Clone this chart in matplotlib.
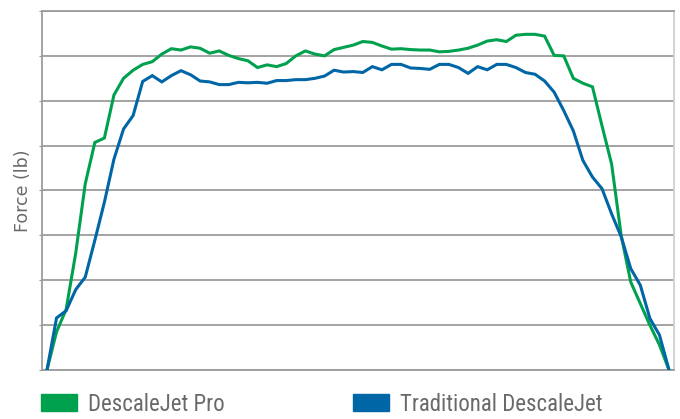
import numpy as np
import matplotlib.pyplot as plt
from matplotlib.patches import Patch

# force readings, one per sample step (same time base for both units)
pro_force = [0, 0.85, 1.35, 2.6, 4.15, 5.07, 5.17, 6.13, 6.5, 6.68,
             6.81, 6.87, 7.04, 7.16, 7.13, 7.2, 7.17, 7.06, 7.11, 7.01,
             6.94, 6.89, 6.74, 6.8, 6.76, 6.83, 7.0, 7.11, 7.04, 7.0,
             7.14, 7.19, 7.24, 7.32, 7.3, 7.22, 7.15, 7.16, 7.14, 7.13,
             7.13, 7.09, 7.1, 7.13, 7.17, 7.24, 7.33, 7.36, 7.32, 7.46,
             7.48, 7.48, 7.44, 7.01, 7.0, 6.5, 6.39, 6.31, 5.44, 4.59,
             3.0, 1.96, 1.48, 1.0, 0.56, 0]
trad_force = [0, 1.16, 1.32, 1.79, 2.07, 2.89, 3.74, 4.7, 5.37, 5.67,
              6.43, 6.56, 6.42, 6.56, 6.67, 6.58, 6.44, 6.42, 6.36, 6.36,
              6.41, 6.4, 6.41, 6.39, 6.45, 6.45, 6.47, 6.47, 6.5, 6.55,
              6.68, 6.64, 6.65, 6.63, 6.76, 6.69, 6.81, 6.81, 6.73, 6.72,
              6.7, 6.81, 6.81, 6.74, 6.61, 6.76, 6.69, 6.81, 6.81, 6.74,
              6.63, 6.59, 6.44, 6.19, 5.78, 5.33, 4.67, 4.3, 4.04, 3.48,
              2.97, 2.26, 1.89, 1.15, 0.78, 0]
series_names = ["DescaleJet Pro", "Traditional DescaleJet"]
series_colors = ["#00a14e", "#0066a6"]

steps = np.arange(len(pro_force))
text_gray = "#6a6a6a"
narrow = ["Roboto Condensed", "DejaVu Sans"]

fig = plt.figure(figsize=(6.8, 4.19), dpi=100)
ax = fig.add_axes([42/680, 49/419, 632/680, 359/419])

lines = []
for vals, col in zip([pro_force, trad_force], series_colors):
    ln, = ax.plot(steps, vals, color=col, lw=2.2, solid_joinstyle="miter", zorder=3)
    lines.append(ln)

ax.set_xlim(-0.52, len(steps) - 1 + 0.52)
ax.set_ylim(0, 8)
ax.set_yticks(np.arange(0, 9))
ax.set_xticks([])
ax.tick_params(axis="y", length=2, color="#999999", labelleft=False)
ax.grid(axis="y", color="#9c9c9c", lw=1.3, zorder=1)
for s in ["left", "bottom", "top"]:
    ax.spines[s].set_color("#9c9c9c")
    ax.spines[s].set_linewidth(1.3)
ax.spines["right"].set_color("#d0d0d0")
ax.spines["right"].set_linewidth(1.3)

ax.set_ylabel("Force (lb)", color=text_gray, fontsize=12.5, labelpad=5.5,
              family=["DejaVu Sans"])

# legend: two separate entries laid out under the plot
anchors = [41/680, 353/680]
for ln, name, x0 in zip(lines, series_names, anchors):
    fig.legend(handles=[Patch(color=ln.get_color())], labels=[name],
               loc="center left", bbox_to_anchor=(x0, 1 - 404/419),
               frameon=False, borderpad=0, borderaxespad=0,
               handlelength=1.55, handleheight=0.7, handletextpad=0.5,
               prop={"family": narrow, "size": 16.5, "stretch": "condensed"},
               labelcolor=text_gray)

fig.savefig("out.png", dpi=100)
